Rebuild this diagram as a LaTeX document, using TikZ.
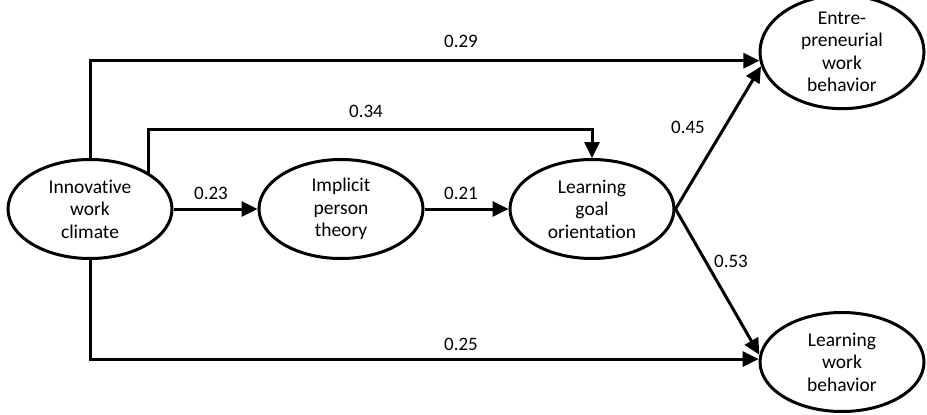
\documentclass[tikz,border=0pt]{standalone}
\usepackage{fontspec}
\setmainfont{Carlito}[Ligatures={NoCommon}]
\usetikzlibrary{shapes.geometric,arrows.meta}
\begin{document}
\begin{tikzpicture}[x=1pt,y=-1pt,
  latent/.style={draw,ellipse,line width=3pt,inner sep=0pt,
    minimum width=164pt,minimum height=99pt,align=center,
    font=\fontsize{19.5}{22.5}\selectfont},
  arr/.style={line width=3pt,-{Triangle[length=16pt,width=15pt]}},
  coef/.style={font=\fontsize{19}{22}\selectfont,inner sep=0pt}]
\useasboundingbox (0,0) rectangle (927,415);
\node[latent] (inn) at (90,209) {Innovative\\work\\climate};
\node[latent] (imp) at (341,209) {Implicit\\person\\theory};
\node[latent] (lgo) at (592,209) {Learning\\goal\\orientation};
\node[latent,minimum height=96pt] (ent) at (842,52) {Entre-\\preneurial\\work\\behavior};
\node[latent] (lwb) at (842,362) {Learning\\work\\behavior};
\coordinate (top34) at (592,129);
\draw[arr] (inn.north) |- (ent.186);
\draw[arr] (inn.south) |- (lwb.178);
\draw[arr] (inn.32) -- (inn.32 |- top34) -| (lgo.north);
\draw[arr] (inn.east) -- (imp.west);
\draw[arr] (imp.east) -- (lgo.west);
\draw[arr] (lgo.east) -- (ent.190);
\draw[arr] (lgo.east) -- (lwb.175);
\node[coef] (c29) at (461,41) {0.29};
\node[coef] (c34) at (366,111) {0.34};
\node[coef] (c23) at (211,193) {0.23};
\node[coef] (c21) at (461,193) {0.21};
\node[coef] (c45) at (688,127) {0.45};
\node[coef] (c53) at (731,261) {0.53};
\node[coef] (c25) at (461,344) {0.25};
\end{tikzpicture}
\end{document}
